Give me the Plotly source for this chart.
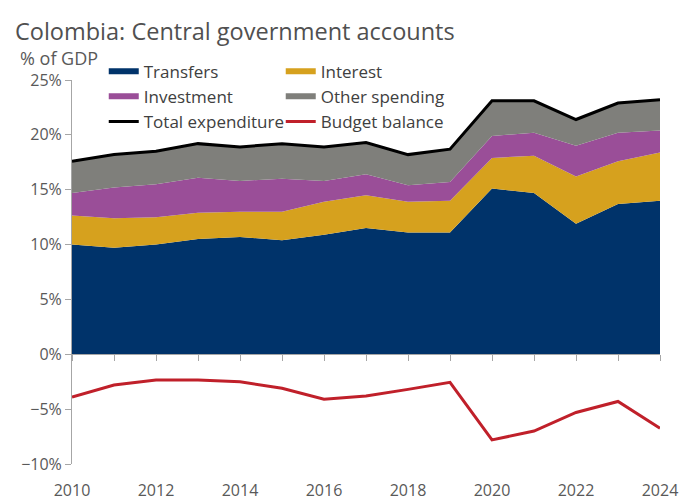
import plotly.graph_objects as go
import numpy as np

years = list(range(2010, 2025))

# % of GDP
transfers = [10.0, 9.7, 10.0, 10.5, 10.7, 10.4, 10.9, 11.5, 11.1, 11.1, 15.1, 14.7, 11.9, 13.7, 14.0]
interest = [2.65, 2.7, 2.5, 2.4, 2.3, 2.6, 3.0, 3.0, 2.8, 2.9, 2.8, 3.4, 4.3, 3.9, 4.4]
investment = [2.05, 2.8, 3.0, 3.2, 2.8, 3.0, 1.9, 1.9, 1.5, 1.7, 2.0, 2.1, 2.8, 2.6, 2.0]
other = [2.9, 3.0, 3.0, 3.1, 3.1, 3.2, 3.1, 2.9, 2.8, 3.0, 3.2, 2.9, 2.4, 2.7, 2.8]
balance = [-3.9, -2.8, -2.35, -2.35, -2.5, -3.1, -4.1, -3.8, -3.2, -2.55, -7.8, -7.0, -5.3, -4.3, -6.75]

total = np.array(transfers) + np.array(interest) + np.array(investment) + np.array(other)

grey = "#595959"
font = "Open Sans"

fig = go.Figure()

areas = [
    ("Transfers", transfers, "#00336A", "legend"),
    ("Interest", interest, "#D6A11E", "legend2"),
    ("Investment", investment, "#9A4E98", "legend"),
    ("Other spending", other, "#7F7F7B", "legend2"),
]
for name, vals, col, lg in areas:
    fig.add_trace(go.Scatter(
        x=years, y=vals, name=name, stackgroup="one", mode="none",
        fillcolor=col, legend=lg
    ))

fig.add_trace(go.Scatter(
    x=years, y=total, name="Total expenditure", mode="lines",
    line=dict(color="black", width=3), legend="legend"
))
fig.add_trace(go.Scatter(
    x=years, y=balance, name="Budget balance", mode="lines",
    line=dict(color="#C0202A", width=3), legend="legend2", xaxis="x2"
))

leg = dict(
    font=dict(family=font, size=17, color="#404040"),
    bgcolor="rgba(0,0,0,0)", traceorder="normal", tracegroupgap=0,
    yanchor="top", xanchor="left", itemwidth=30
)

# page has an 8px body margin, so the figure is shifted by 8px
fig.update_layout(
    width=684, height=496,
    margin=dict(l=64, r=32, t=72, b=40, autoexpand=False),
    paper_bgcolor="white", plot_bgcolor="white",
    font=dict(family=font, color=grey, size=16),
    title=dict(text="Colombia: Central government accounts", x=0.0102, xanchor="left",
               y=0.9516, yanchor="middle", font=dict(size=23.5, color="#505050")),
    showlegend=True,
    legend=dict(leg, x=0.054, y=1.0685),
    legend2=dict(leg, x=0.355, y=1.0685),
    xaxis=dict(range=[2010, 2024], tickvals=list(range(2010, 2025, 2)),
               showline=False, showgrid=False, zeroline=False,
               ticks="outside", ticklen=12, tickcolor="rgba(0,0,0,0)",
               tickfont=dict(size=16, color=grey)),
    xaxis2=dict(range=[2010, 2024], overlaying="x", anchor="free", position=10 / 35,
                showline=True, linecolor="#A6A6A6", linewidth=1,
                ticks="outside", ticklen=6, tickcolor="#A6A6A6", dtick=1,
                showticklabels=False, showgrid=False, zeroline=False),
    yaxis=dict(range=[-10, 25], dtick=5, ticksuffix="%", showgrid=False, zeroline=False,
               showline=True, linecolor="#A6A6A6", ticks="outside", ticklen=6,
               tickcolor="#A6A6A6", tickfont=dict(size=16, color=grey)),
    annotations=[dict(text="% of GDP", xref="paper", yref="paper", x=-0.092, y=1.057,
                      xanchor="left", yanchor="middle", showarrow=False,
                      font=dict(size=18, color=grey))],
)

fig.write_html("out.html")
